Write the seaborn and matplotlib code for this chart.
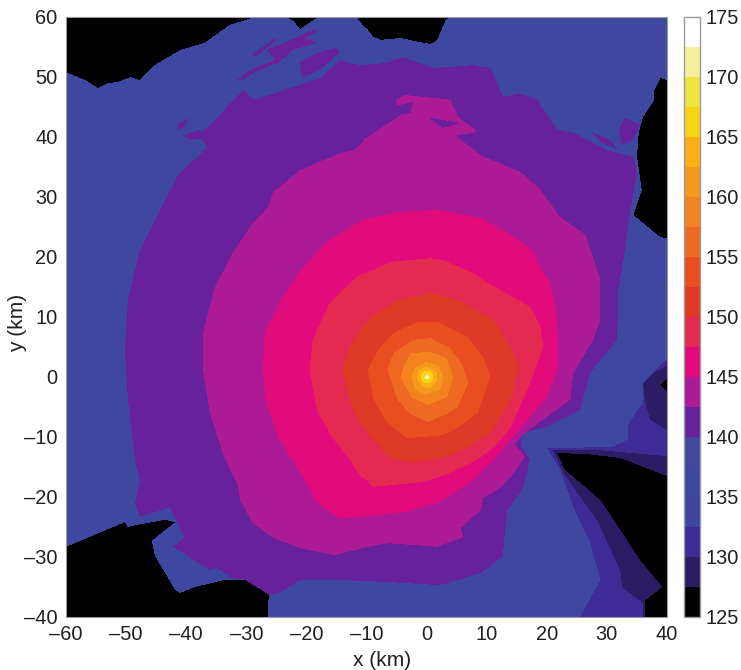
import numpy as np
import matplotlib
matplotlib.use("Agg")
import matplotlib.pyplot as plt
import seaborn as sns
from matplotlib.colors import ListedColormap
from matplotlib.path import Path

# Contour outlines, km
indigo_x = [20, 30.9, 33.4, 33.6, 36, 36, 39.7, 40, 40, 25.5, 28.9, 27.2, 24.4, 22.2]
indigo_y = [-11.8, -11.7, -10.5, -7.7, -4.3, -1, 2.8, 2.8, -40, -40, -33.8, -27.7, -21.7, -15.5]
dark_x = [21, 28.9, 40, 40, 40, 36, 36, 32.5, 32.2, 28.4, 22.7]
dark_y = [-12.2, -12.2, -13.2, -20.5, -40, -40, -37.7, -35, -32.2, -24, -16]
dark_right_x = [36, 37.7, 39.7, 40, 40, 37.2, 36.4]
dark_right_y = [-1, 0.7, 1.7, 2.5, -8.8, -7.2, -4.3]

black_tl_x = [-60, -60, -56.8, -54.7, -53, -51.3, -49.3, -47.7, -45.2, -41, -36.9, -32.7, -28.5]
black_tl_y = [60, 50.8, 49.5, 48.2, 49, 49.2, 50, 49.5, 52, 54.5, 55.7, 58.7, 60]
black_notch_x = [-23.5, -22.2, -21, -18.5, -17.4]
black_notch_y = [60, 59.5, 58, 59.7, 60]
black_top_x = [-11.6, -8.9, -7.7, -4.4, -1.1, 0.6, 1.7, 3.1, 3.9]
black_top_y = [60, 56.7, 56.2, 56.5, 55.8, 55.5, 56.2, 59.5, 60]
black_right_x = [40, 38.9, 37.9, 37.9, 36, 35.3, 35, 35.8, 34.4, 38.9, 40]
black_right_y = [49.5, 49.8, 47.8, 46.2, 43.3, 40.7, 36.7, 31.2, 27, 23.3, 23.2]
black_bl_x = [-60, -50.2, -49.7, -48.5, -43.5, -41.8, -43.5, -45.7, -45.2, -44.3, -41.8, -41, -38.5, -33.5, -30.2, -27.4, -26.2, -26.4, -60]
black_bl_y = [-28.3, -24.2, -25, -24.7, -23.8, -24.2, -25.5, -27.3, -29.7, -31.3, -35.5, -36, -35, -33.8, -33.8, -35.5, -36.3, -40, -40]
black_br_x = [21.7, 26.4, 32.2, 40, 40, 36.4, 36.4, 39.2, 35.5, 28.9, 23]
black_br_y = [-12.7, -12.8, -13.5, -16.5, -40, -40, -37.2, -35, -30.5, -20.5, -15.5]
black_dot_x = [40, 38.9, 40]
black_dot_y = [-0.2, -1.3, -2.5]

purple_x = [-43.5, -41.3, -36.5, -37.7, -30.5, -28.5, -21, -17.7, -14.4, -11.1, -7.2, -3.9, -2.7, 1.1, 7.7, 10.6, 12.7, 15.6, 18.4, 21.7, 24.4, 30, 34.4, 35, 33.8, 33, 31.9, 31.7, 27.2, 25.5, 20, 15.9, 15.6, 17.2, 15.9, 13.4, 12.6, 8.9, 2.2, -4.4, -14.4, -21, -24.4, -26.2, -27.4, -30.2, -32.4, -34.9, -36, -42.2, -40.2, -42.7, -47.7, -48.5, -47.7, -48.5, -49.7, -50.2, -49.7, -47.7]
purple_y = [29.5, 33.7, 38.2, 40.3, 47.8, 46.2, 48.7, 49.8, 52.8, 52, 52.3, 53.3, 52.8, 51.5, 52, 51.5, 46.7, 47.3, 46.2, 41.2, 40.7, 37.8, 36.7, 34, 27.3, 21.2, 14.5, 6.2, 0.7, -5.5, -8.3, -9.3, -11.3, -13.8, -18.8, -22.2, -30, -32.7, -34.7, -34.3, -33.8, -33.8, -36, -36.3, -35.5, -33.8, -33.5, -31.8, -32.2, -28.3, -26.7, -21.8, -23.3, -21, -17.2, -13.8, -3.8, 4.5, 12.8, 21.2]
streak1_x = [-31.4, -29.4, -25.2, -24.9, -28.5, -31]
streak1_y = [49.5, 51.2, 52.8, 52.3, 50.8, 49.2]
streak2_x = [-29, -25.2, -24.9, -28.5]
streak2_y = [53.7, 56.5, 56.2, 53.3]
streak3_x = [-26.5, -18.5, -18.2, -20.2, -18, -22.2, -24.9, -25.2]
streak3_y = [54.5, 58, 57.5, 56.5, 55.7, 54.5, 52, 52.8]
streak4_x = [-41.5, -39.4, -40.2, -41.3]
streak4_y = [42, 43.3, 41.7, 41.2]
streak5_x = [-40.5, -37.7, -36.9, -39.4]
streak5_y = [40.3, 41.2, 39.8, 39.5]
streak6_x = [-21, -18.2, -14.9, -14.4, -17.7, -20.7]
streak6_y = [52.5, 54, 55, 54, 51.2, 49.8]
patch_right_x = [33, 35.5, 34.4, 32.5, 31.9]
patch_right_y = [43.2, 42, 39.5, 38.7, 41.2]
streak7_x = [27.5, 30.5, 31.9, 28.9]
streak7_y = [40.8, 39.5, 37.8, 39.2]

magenta_x = [-4.4, -5.2, -3.6, 1.4, 3.9, 5.2, 8.1, 8.1, 4.7, 8.9, 15.6, 18.9, 22.2, 26.4, 28.9, 28.9, 27.7, 24.4, 23.9, 18.1, 15.9, 14.7, 16.4, 13.9, 12.2, 9.4, 8.9, 5.6, 6.1, 1.7, -6.6, -10.6, -15.2, -21, -25.5, -28.9, -31, -31.4, -33.9, -36, -37.2, -37.2, -35.2, -32.2, -28.9, -26.4, -25.5, -21, -14.4, -11.9, -9.9, -6.9]
magenta_y = [43.7, 46.2, 47, 46.5, 46.2, 43.3, 41.2, 40.7, 40.3, 37, 34.2, 31.2, 26.7, 23.7, 16.2, 9.5, 6.2, 0.7, -3.8, -8, -9.7, -11.3, -13.3, -16.7, -18.5, -20.2, -22.2, -25.2, -26.7, -28.3, -27.7, -28.5, -29.7, -28.5, -26.8, -24.3, -20.5, -18, -12.7, -6, 1.2, 7.3, 15, 20.7, 25.7, 28.3, 30.8, 34.5, 37.3, 37.8, 40, 42]
hole1_x = [0.2, 5.6, 2.6]
hole1_y = [43.3, 42.3, 41.5]
hole2_x = [-2.4, -5.2, -4.4, -2.7]
hole2_y = [45.8, 45.2, 43.7, 44]

pink_x = [0.6, 2.2, 8.9, 13.9, 17.6, 18.9, 20.5, 21.7, 21.9, 20, 14.4, 11.1, 7.7, 2.2, -3.3, -10.6, -14.4, -18.2, -20.5, -24.4, -26.7, -27.2, -26.9, -23.9, -20.5, -16.1, -10.6, -4.9]
pink_y = [27.8, 27.8, 26.5, 23.7, 21.2, 18.3, 15.7, 10, 1.7, -3.3, -10, -13.8, -17.2, -20.8, -22.5, -23.3, -23.5, -21, -16.7, -10.5, -4.3, 1.2, 7.3, 13.3, 18.3, 22.8, 26.2, 27.5]
rose_x = [0.6, 2.7, 7.7, 10.1, 17.2, 18.9, 19.4, 17.2, 13.9, 11.4, 8.4, 3.9, -0.6, -8.9, -11.1, -12.7, -15.7, -18.2, -19.4, -18.9, -16.1, -11.6, -6.1]
rose_y = [19.8, 19.5, 17.3, 15.7, 11.7, 8.3, 5, -1, -8.5, -11.5, -13.8, -16, -17.5, -18.3, -16.3, -13.8, -10, -5.5, 1.2, 6.2, 12.3, 16.7, 19.2]
red_x = [0.6, 5.1, 11.1, 13.9, 15.2, 13.9, 10.6, 6.7, 2.7, -2.7, -6.1, -9.4, -12.2, -13.9, -12.7, -9.4, -4.9]
red_y = [14, 12.8, 9.5, 5, 1.7, -3.8, -9.3, -11.7, -13.5, -14.2, -13.5, -10, -5.5, 1.2, 5, 10, 12.8]
vermilion_x = [0.6, 1.7, 6.7, 9.4, 10.6, 8.4, 5.9, 2.7, -3.2, -6.6, -8.9, -9.9, -8.2, -5.6, -1.6]
vermilion_y = [9.2, 9.2, 6.7, 3.3, 0, -6, -8, -9.7, -10.2, -7.7, -3.8, 1.2, 4.5, 7.3, 9.2]
orange1_x = [0.6, 3.9, 5.9, 6.9, 5.1, 3.1, 0.1, -2.7, -4.9, -6.6, -5.6, -2.3]
orange1_y = [6.5, 4.8, 2, -1, -5, -6.3, -7.5, -6.3, -3.8, 1.2, 4, 6.2]
orange2_x = [0.6, 3.2, 4.4, 3.4, 0.1, -2.7, -4.4, -3.9, -2.7]
orange2_y = [4.2, 3.2, 0, -3.3, -4.7, -3.3, 0, 1.7, 4]
orange3_x = [-0.1, 1.9, 2.7, 2.2, -0.2, -2.1, -2.6, -1.9]
orange3_y = [2.5, 2, 0.3, -2.2, -3, -2, 0, 1.7]
amber_x = [0, 1.6, 1.7, 0.6, -0.7, -1.7, -1.4]
amber_y = [1.7, 0.8, -0.5, -1.8, -1.7, -0.5, 1.2]
gold_x = [0, 0.8, 1.1, 0.8, 0, -0.8, -1.1, -0.8]
gold_y = [1.1, 0.8, 0, -0.8, -1.1, -0.8, 0, 0.8]
yellow_x = [0, 0.6, 0, -0.6]
yellow_y = [0.6, 0, -0.6, 0]
pale_x = [0, 0.4, 0, -0.4]
pale_y = [0.4, 0, -0.4, 0]
white_x = [-0.2, 0.2, 0.2, -0.2]
white_y = [0.2, 0.2, -0.2, -0.2]

# One colour per 2.5 dB band, 125 up to 175
band_colors = ["#000000", "#2c1c63", "#3e2b96", "#3f45a0", "#3f48a0", "#41489e",
               "#66219b", "#ac1a96", "#e20b7c", "#e42a50", "#df3a25", "#e84e20",
               "#ee6a22", "#f3831f", "#f6981d", "#fab014", "#f8d316", "#efe342",
               "#f7ef9c", "#ffffff"]
cbar_ticks = [125, 130, 135, 140, 145, 150, 155, 160, 165, 170, 175]
x_ticks = [-60, -50, -40, -30, -20, -10, 0, 10, 20, 30, 40]
y_ticks = [-40, -30, -20, -10, 0, 10, 20, 30, 40, 50, 60]

# Painted in order, later outlines sit on top of earlier ones
layers = [
    (indigo_x, indigo_y, 131.25),
    (dark_x, dark_y, 128.75),
    (dark_right_x, dark_right_y, 128.75),
    (black_tl_x, black_tl_y, 126.25),
    (black_notch_x, black_notch_y, 126.25),
    (black_top_x, black_top_y, 126.25),
    (black_right_x, black_right_y, 126.25),
    (black_bl_x, black_bl_y, 126.25),
    (black_br_x, black_br_y, 126.25),
    (black_dot_x, black_dot_y, 126.25),
    (purple_x, purple_y, 141.25),
    (streak1_x, streak1_y, 141.25),
    (streak2_x, streak2_y, 141.25),
    (streak3_x, streak3_y, 141.25),
    (streak4_x, streak4_y, 141.25),
    (streak5_x, streak5_y, 141.25),
    (streak6_x, streak6_y, 141.25),
    (streak7_x, streak7_y, 141.25),
    (patch_right_x, patch_right_y, 141.25),
    (magenta_x, magenta_y, 143.75),
    (hole1_x, hole1_y, 141.25),
    (hole2_x, hole2_y, 141.25),
    (pink_x, pink_y, 146.25),
    (rose_x, rose_y, 148.75),
    (red_x, red_y, 151.25),
    (vermilion_x, vermilion_y, 153.75),
    (orange1_x, orange1_y, 156.25),
    (orange2_x, orange2_y, 158.75),
    (orange3_x, orange3_y, 161.25),
    (amber_x, amber_y, 163.75),
    (gold_x, gold_y, 166.25),
    (yellow_x, yellow_y, 168.75),
    (pale_x, pale_y, 171.25),
    (white_x, white_y, 173.75),
]


def build_field():
    """Fills a 600x600 grid, first row is y = 60 km."""
    xs = -60 + (np.arange(600) + 0.5) / 6
    ys = 60 - (np.arange(600) + 0.5) / 6
    xx, yy = np.meshgrid(xs, ys)
    points = np.column_stack([xx.ravel(), yy.ravel()])
    field = np.full(xx.size, 136.25)
    for lx, ly, value in layers:
        field[Path(np.column_stack([lx, ly])).contains_points(points, radius=0.01)] = value
    return field.reshape(xx.shape)


def label(v):
    return str(v).replace("-", "\u2013")


sns.set_theme(style="white")
plt.rcParams["font.family"] = ["Liberation Sans", "DejaVu Sans"]

W, H = 741, 670
fig = plt.figure(figsize=(W / 100, H / 100), dpi=100)
ax = fig.add_axes([66 / W, 1 - 617 / H, 601 / W, 600 / H])
cax = fig.add_axes([684 / W, 1 - 617 / H, 16 / W, 600 / H])

sns.heatmap(build_field(), ax=ax, cbar_ax=cax, cmap=ListedColormap(band_colors),
            vmin=125, vmax=175, xticklabels=False, yticklabels=False)

text_color = "#231f20"
ax.set_xticks([(v + 60) * 6 for v in x_ticks])
ax.set_xticklabels([label(v) for v in x_ticks], rotation=0, fontsize=14.4, color=text_color)
ax.set_yticks([(60 - v) * 6 for v in y_ticks])
ax.set_yticklabels([label(v) for v in y_ticks], rotation=0, fontsize=14.4, color=text_color)
ax.tick_params(length=0, pad=6)
for spine in ax.spines.values():
    spine.set_visible(True)
    spine.set_edgecolor("#9a9a9a")
    spine.set_linewidth(0.8)

ax.set_xlabel("x (km)", fontsize=15, color=text_color, va="center")
ax.xaxis.set_label_coords(0.526, -0.073)
ax.set_ylabel("y (km)", fontsize=15, color=text_color, va="center")
ax.yaxis.set_label_coords(-0.0815, 0.49)

cbar = ax.collections[0].colorbar
cbar.set_ticks(cbar_ticks)
cbar.set_ticklabels([str(v) for v in cbar_ticks], fontsize=14.4, color=text_color)
cbar.ax.tick_params(direction="in", length=3, width=0.8, color="#333333", pad=4, right=True)
cbar.outline.set_edgecolor("#9a9a9a")
cbar.outline.set_linewidth(1.0)

fig.savefig("out.png", dpi=100)
plt.close(fig)
